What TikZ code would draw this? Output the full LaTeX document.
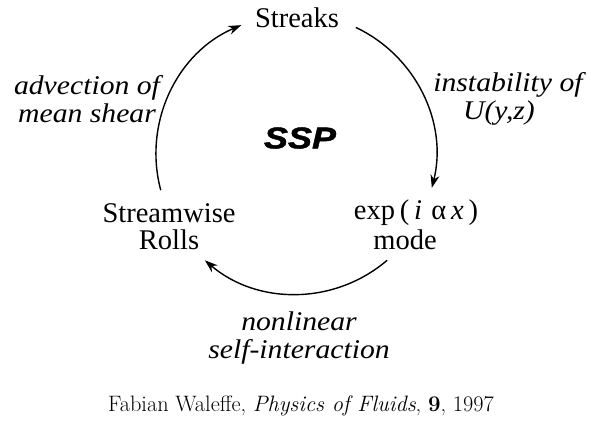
\documentclass[tikz,border=0pt]{standalone}
\usepackage{fontspec}
\setmainfont{Liberation Serif}
\newfontfamily\lblfont[FakeStretch=1.1]{Liberation Serif}
\newfontfamily\sspfont[FakeStretch=1.2,FakeBold=1.5]{Liberation Sans Bold Italic}
\newfontfamily\footfont{Latin Modern Roman}
\usetikzlibrary{arrows.meta,calc}
\tikzset{
  mainlbl/.style={inner sep=0pt, font=\fontsize{28.5}{27}\selectfont, align=center},
  itlbl/.style={inner sep=0pt, font=\lblfont\itshape\fontsize{27}{28}\selectfont, align=center},
  cyc/.style={line width=1.4pt, -{Stealth[length=13pt,width=9pt]}},
}
\begin{document}
\begin{tikzpicture}[x=1pt,y=-1pt]
\useasboundingbox[fill=white] (0,0) rectangle (590,423);
\coordinate (c) at (296,154);
% nodes
\node[mainlbl] (streaks) at (297,18) {Streaks};
\node[mainlbl] (exp) at (416,213) {exp\,(\,\textit{i}\,\,α\,\textit{x}\,)};
\node[mainlbl] (mode) at (405,240) {mode};
\node[mainlbl] (rolls) at (169,227) {Streamwise\\Rolls};
\node[inner sep=0pt, font=\sspfont\fontsize{30}{30}\selectfont] (ssp) at (300,138) {SSP};
% labels
\node[itlbl] (adv) at (87,99) {advection of\\mean shear};
\node[itlbl] (inst) at (508,99) {instability of\\\hspace*{-18pt}U(y,z)};
\node[itlbl] (nonlin) at (299,338) {nonlinear\\self-interaction};
\node[inner sep=0pt, font=\footfont\fontsize{22.3}{22}\selectfont] (foot) at (301,406) {Fabian Waleffe, \textit{Physics of Fluids}, \textbf{9}, 1997};
% circle points
\coordinate (rs) at ($(c)+(-64.7:140)$);
\coordinate (bs) at ($(c)+(49.4:140)$);
\coordinate (ls) at ($(c)+(165:140)$);
\draw[cyc] (rs) arc[start angle=-64.7, end angle=14, radius=140];
\draw[cyc] (bs) arc[start angle=49.4, end angle=130.6, radius=140];
\draw[cyc] (ls) arc[start angle=165, end angle=247, radius=140];
\end{tikzpicture}
\end{document}
